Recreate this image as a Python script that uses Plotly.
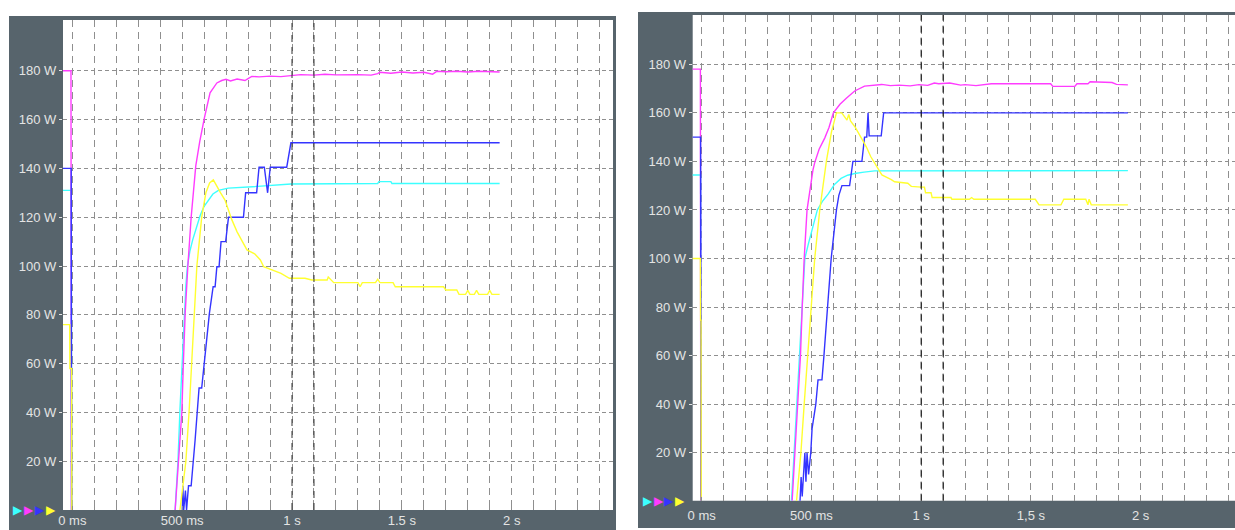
import plotly.graph_objects as go

# ---------------- data ----------------
Y_TICKS = [20, 40, 60, 80, 100, 120, 140, 160, 180]
Y_LABELS = ["20 W", "40 W", "60 W", "80 W", "100 W", "120 W", "140 W", "160 W", "180 W"]
X_GRID = [0.0, 0.1, 0.2, 0.3, 0.4, 0.5, 0.6, 0.7, 0.8, 0.9, 1.0, 1.1, 1.2,
          1.3, 1.4, 1.5, 1.6, 1.7, 1.8, 1.9, 2.0, 2.1, 2.2, 2.3, 2.4]
X_LABEL_VALS = [0.0, 0.5, 1.0, 1.5, 2.0]
X_LABELS_L = ["0 ms", "500 ms", "1 s", "1.5 s", "2 s"]
X_LABELS_R = ["0 ms", "500 ms", "1 s", "1,5 s", "2 s"]
CURSORS = [1.0, 1.1]

# ---- left capture ----
L_mag_t = [-0.045, -0.006, -0.004, 0.46, 0.468, 0.483, 0.4985, 0.506, 0.514, 0.526, 0.541, 0.562, 0.58,
           0.601, 0.627, 0.658, 0.68, 0.70, 0.72, 0.75, 0.786, 0.80, 0.817, 0.85, 0.90, 0.95, 1.0, 1.04,
           1.10, 1.15, 1.20, 1.25, 1.30, 1.36, 1.39, 1.40, 1.45, 1.50, 1.55, 1.60, 1.64, 1.66, 1.70,
           1.75, 1.80, 1.85, 1.90, 1.945]
L_mag_w = [180, 180, -3, -3, 0, 20.5, 40, 61.5, 81, 100, 120, 141, 151, 160.6, 171, 175, 176, 176.5,
           175.8, 176.6, 176, 176.8, 177.7, 177.5, 177.8, 177.6, 178, 178.4, 178.2, 178.6, 178.3, 178.4,
           178.4, 178.2, 178.8, 179.4, 179.0, 179.5, 179.1, 179.4, 178.6, 179.8, 179.6, 179.8, 179.5,
           179.8, 179.6, 179.5]

L_blu_t = [-0.045, -0.005, -0.003, 0.50, 0.503, 0.507, 0.515, 0.52, 0.529, 0.541, 0.559, 0.577, 0.589,
           0.601, 0.624, 0.641, 0.650, 0.658, 0.668, 0.677, 0.698, 0.711, 0.779, 0.789, 0.839, 0.85,
           0.874, 0.889, 0.901, 0.976, 0.995, 1.945]
L_blu_w = [140, 140, -3, -3, 10, 0, 8, 0, 10, 10, 28.7, 50, 50, 60.8, 80.6, 91.5, 91.5, 99.7, 99.7,
           110, 110, 120, 120, 130, 130, 140.5, 140.5, 130, 140.5, 140.5, 150.5, 150.5]

L_cya_t = [-0.045, -0.005, -0.003, 0.462, 0.468, 0.475, 0.481, 0.49, 0.50, 0.51, 0.517, 0.524, 0.535,
           0.548, 0.565, 0.582, 0.60, 0.62, 0.64, 0.665, 0.71, 0.82, 0.995, 1.39, 1.395, 1.45, 1.455, 1.945]
L_cya_w = [131, 131, -3, -3, 0, 10, 20, 41, 61.5, 81, 92, 100, 106, 110.7, 116, 120.7, 124.5, 127,
           129.5, 131, 131.9, 132.5, 133.6, 133.8, 134.6, 134.6, 133.8, 133.8]

L_yel_t = [-0.045, -0.012, -0.011, -0.003, -0.002, 0.485, 0.49, 0.505, 0.517, 0.532, 0.544, 0.556,
           0.567, 0.578, 0.589, 0.608, 0.625, 0.642, 0.658, 0.675, 0.695, 0.726, 0.75, 0.771, 0.795, 0.83,
           0.856, 0.871, 0.91, 0.95, 0.988, 1.059, 1.09, 1.16, 1.165, 1.18, 1.19, 1.30, 1.31, 1.32, 1.33,
           1.38, 1.39, 1.40, 1.46, 1.47, 1.69, 1.70, 1.75, 1.76, 1.79, 1.80, 1.81, 1.83, 1.84, 1.85, 1.89,
           1.90, 1.91, 1.945]
L_yel_w = [76, 76, 58, 58, -3, -3, 0, 10, 20, 41, 61.5, 81, 100, 110, 120, 130, 134, 135.3, 133, 130,
           127, 119, 114, 110.7, 106.6, 105, 102.5, 99.7, 98.4, 97, 95, 95, 94.3, 94.3, 95.5, 94.3, 93.2,
           93.2, 91.5, 93.2, 93.2, 93.2, 94.6, 93.2, 93.2, 91.5, 91.5, 90.2, 90.2, 88.4, 88.4, 90, 88.4,
           88.4, 90, 88.4, 88.4, 90, 88.4, 88.4]

# ---- right capture ----
R_mag_t = [-0.045, -0.006, -0.004, 0.405, 0.412, 0.424, 0.439, 0.45, 0.458, 0.467, 0.48, 0.497, 0.507,
           0.515, 0.535, 0.561, 0.58, 0.60, 0.63, 0.659, 0.697, 0.742, 0.78, 0.82, 0.86, 0.90, 0.95, 0.99,
           1.03, 1.06, 1.08, 1.13, 1.18, 1.2, 1.25, 1.29, 1.32, 1.40, 1.48, 1.59, 1.60, 1.70, 1.71, 1.76,
           1.77, 1.82, 1.87, 1.89, 1.942]
R_mag_w = [178, 178, -3, -3, 0, 20, 40, 60, 80, 100, 120, 131, 136.5, 139.5, 145, 149.7, 154, 160,
           163.5, 166, 169, 171, 171.2, 171.7, 171.2, 171.4, 171.1, 171.6, 171.3, 172.3, 172.0, 172.3,
           171.4, 171.6, 171.2, 171.5, 172.0, 172.0, 171.9, 172.0, 170.9, 170.9, 172.0, 172.0, 172.8,
           172.8, 172.5, 171.7, 171.5]

R_blu_t = [-0.045, -0.005, -0.003, 0.445, 0.448, 0.453, 0.458, 0.465, 0.47, 0.475, 0.48, 0.487, 0.492,
           0.497, 0.503, 0.52, 0.53, 0.548, 0.557, 0.575, 0.59, 0.614, 0.625, 0.639, 0.674, 0.689, 0.73,
           0.742, 0.752, 0.758, 0.763, 0.77, 0.818, 0.829, 1.942]
R_blu_w = [150, 150, -3, -3, 0, 10, 2, 12, 20, 8, 20, 11, 16, 20, 30, 40, 50, 50, 60, 80, 100, 120,
           126, 130, 130, 140, 140, 150, 150, 160, 150.5, 150.5, 150.5, 160, 160]

R_cya_t = [-0.045, -0.005, -0.003, 0.405, 0.409, 0.421, 0.435, 0.447, 0.458, 0.47, 0.486, 0.50, 0.513,
           0.527, 0.55, 0.576, 0.605, 0.635, 0.665, 0.697, 0.74, 0.788, 1.942]
R_cya_w = [134.4, 134.4, -3, -3, 0, 20, 40, 60, 80, 100, 106, 111, 116, 120, 123.5, 126.5, 130.5, 133,
           134.3, 135, 135.6, 136.1, 136.2]

R_yel_t = [-0.045, -0.006, -0.005, -0.003, -0.002, 0.428, 0.432, 0.452, 0.467, 0.482, 0.50, 0.515,
           0.538, 0.568, 0.591, 0.614, 0.638, 0.652, 0.662, 0.67, 0.678, 0.70, 0.727, 0.75, 0.77, 0.795,
           0.821, 0.864, 0.879, 0.939, 0.955, 1.0, 1.015, 1.02, 1.045, 1.05, 1.136, 1.14, 1.22, 1.23,
           1.24, 1.52, 1.537, 1.637, 1.65, 1.75, 1.76, 1.765, 1.775, 1.942]
R_yel_w = [100, 100, 74.6, 74.6, -3, -3, 0, 20, 40, 60, 80, 100, 120, 140, 152, 160, 160, 158.3, 157,
           159.3, 156.7, 154, 149.5, 146, 142, 138, 134.4, 132.5, 131.6, 131, 129.7, 129.4, 129.4, 127.1,
           127.1, 125.1, 125.1, 124.4, 124.4, 125.1, 124.4, 124.4, 122.1, 122.1, 124.4, 124.4, 122.1,
           124.4, 122.1, 122.1]

# ---------------- style ----------------
WIDTH, HEIGHT = 1235, 530
FRAME = "#57646c"
GRID = "#8f8f8f"
LABEL = "#e4e4e4"
FONT = "Liberation Sans Narrow, Arial Narrow, Liberation Sans, sans-serif"
COLORS = {"cyan": "#3cffff", "magenta": "#ff3cff", "blue": "#3434ff", "yellow": "#ffff30"}

panels = [
    dict(sfx="", frame=(9, 16, 616, 530), plot=(63, 20, 613, 510),
         xr=[-0.0423, 2.461], yr=[0.04, 200.8], xlabels=X_LABELS_L, cursor="#303030", standoff=1,
         series=[(L_cya_t, L_cya_w, "cyan"), (L_mag_t, L_mag_w, "magenta"),
                 (L_blu_t, L_blu_w, "blue"), (L_yel_t, L_yel_w, "yellow")],
         tri_y=509.5, tri_x=[18, 29, 40, 51]),
    dict(sfx="2", frame=(638, 12, 1235, 528), plot=(692.7, 15, 1235, 500.7),
         xr=[-0.041, 2.43], yr=[0.23, 200.3], xlabels=X_LABELS_R, cursor="#000000", standoff=5,
         series=[(R_cya_t, R_cya_w, "cyan"), (R_mag_t, R_mag_w, "magenta"),
                 (R_blu_t, R_blu_w, "blue"), (R_yel_t, R_yel_w, "yellow")],
         tri_y=501, tri_x=[648, 658.5, 669, 680]),
]

fig = go.Figure()
shapes = []
annotations = []
layout_axes = {}

for p in panels:
    sfx = p["sfx"]
    xa, ya = "x" + sfx, "y" + sfx
    fx0, fy0, fx1, fy1 = p["frame"]
    px0, py0, px1, py1 = p["plot"]
    shapes.append(dict(type="rect", xref="paper", yref="paper", layer="below",
                       x0=fx0 / WIDTH, x1=fx1 / WIDTH, y0=1 - fy1 / HEIGHT, y1=1 - fy0 / HEIGHT,
                       fillcolor=FRAME, line=dict(width=0)))
    shapes.append(dict(type="rect", xref="paper", yref="paper", layer="below",
                       x0=px0 / WIDTH, x1=px1 / WIDTH, y0=1 - py1 / HEIGHT, y1=1 - py0 / HEIGHT,
                       fillcolor="white", line=dict(width=0)))
    for c in CURSORS:
        shapes.append(dict(type="line", xref=xa, yref=ya + " domain", x0=c, x1=c, y0=0, y1=1,
                           line=dict(color=p["cursor"], width=1, dash="7px,5px")))

    ticktext = []
    for v in X_GRID:
        lab = ""
        for lv, lt in zip(X_LABEL_VALS, p["xlabels"]):
            if abs(lv - v) < 1e-9:
                lab = lt
        ticktext.append(lab)

    layout_axes["xaxis" + sfx] = dict(
        domain=[px0 / WIDTH, px1 / WIDTH], range=p["xr"], anchor=ya, automargin=False,
        tickmode="array", tickvals=X_GRID, ticktext=ticktext,
        showgrid=True, gridcolor=GRID, gridwidth=1, griddash="7px,5px",
        ticks="inside", ticklen=4, tickcolor=GRID, zeroline=False, showline=False,
        ticklabelstandoff=p["standoff"],
        tickfont=dict(family=FONT, size=13, color=LABEL), fixedrange=True)
    layout_axes["yaxis" + sfx] = dict(
        domain=[1 - py1 / HEIGHT, 1 - py0 / HEIGHT], range=p["yr"], anchor=xa, automargin=False,
        tickmode="array", tickvals=Y_TICKS, ticktext=Y_LABELS,
        showgrid=True, gridcolor=GRID, gridwidth=1, griddash="4px,3px",
        ticks="outside", ticklen=3, tickcolor=LABEL, zeroline=False, showline=False,
        tickfont=dict(family=FONT, size=13, color=LABEL), fixedrange=True)

    for t, w, cname in p["series"]:
        fig.add_trace(go.Scatter(x=t, y=w, mode="lines", xaxis=xa, yaxis=ya,
                                 line=dict(color=COLORS[cname], width=1.4),
                                 hoverinfo="skip", showlegend=False))

    # cursor markers in the bottom strip
    fig.add_trace(go.Scatter(x=[CURSORS[0]], y=[p["yr"][0] - 2.9], mode="markers", xaxis=xa, yaxis=ya,
                             cliponaxis=False, showlegend=False, hoverinfo="skip",
                             marker=dict(symbol="triangle-up", size=10, color="white",
                                         line=dict(width=0))))
    fig.add_trace(go.Scatter(x=[CURSORS[1]], y=[p["yr"][0] - 2.9], mode="markers", xaxis=xa, yaxis=ya,
                             cliponaxis=False, showlegend=False, hoverinfo="skip",
                             marker=dict(symbol="triangle-up", size=7, color="black",
                                         line=dict(width=1, color="white"))))

    for tx, cname in zip(p["tri_x"], ["cyan", "magenta", "blue", "yellow"]):
        annotations.append(dict(xref="paper", yref="paper", x=tx / WIDTH, y=1 - p["tri_y"] / HEIGHT,
                                text="▶", showarrow=False, xanchor="center", yanchor="middle",
                                font=dict(family="DejaVu Sans", size=12, color=COLORS[cname])))

fig.update_layout(width=WIDTH, height=HEIGHT, margin=dict(l=0, r=0, t=0, b=0, pad=0, autoexpand=False),
                  paper_bgcolor="white", plot_bgcolor="white", showlegend=False,
                  shapes=shapes, annotations=annotations, **layout_axes)

fig.write_html("out.html", config={"responsive": False, "displayModeBar": False},
               post_script="document.body.style.margin='0px';document.body.style.overflow='hidden';")
